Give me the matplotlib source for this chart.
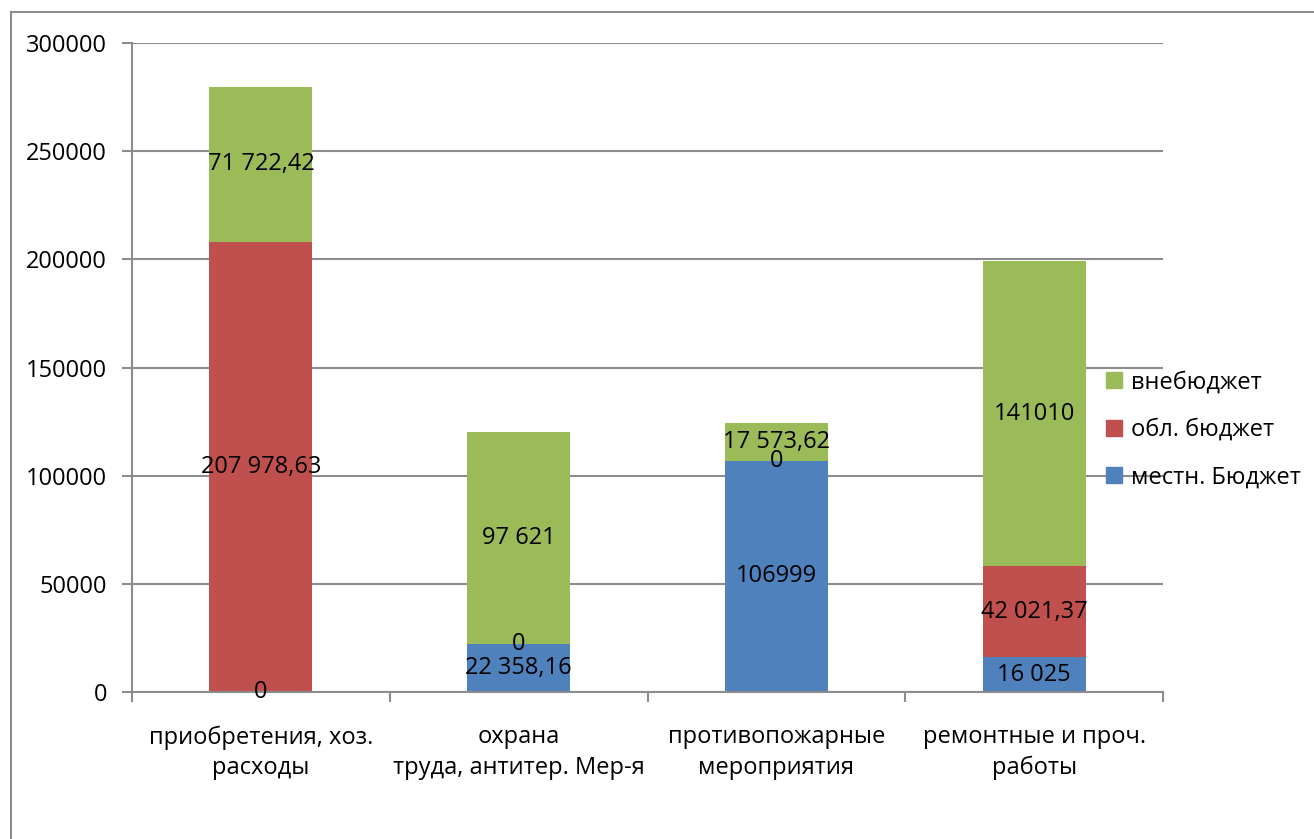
import matplotlib.pyplot as plt
from matplotlib.lines import Line2D
from matplotlib.patches import Patch
import numpy as np

# данные
categories = ["приобретения, хоз.\nрасходы", "охрана\nтруда, антитер. Мер-я",
              "противопожарные\nмероприятия", "ремонтные и проч.\nработы"]
series_names = ["местн. Бюджет", "обл. бюджет", "внебюджет"]
mestn = [0, 22358.16, 106999, 16025]
obl = [207978.63, 0, 0, 42021.37]
vneb = [71722.42, 97621, 17573.62, 141010]
labels_mestn = ["0", "22 358,16", "106999", "16 025"]
labels_obl = ["207 978,63", "0", "0", "42 021,37"]
labels_vneb = ["71 722,42", "97 621", "17 573,62", "141010"]
yticks = [0, 50000, 100000, 150000, 200000, 250000, 300000]

colors = ["#4F81BD", "#C0504D", "#9BBB59"]
grid_c = "#8C8C8C"
plt.rcParams['font.family'] = ['Open Sans', 'DejaVu Sans']
fs = 17

W, H = 1314, 839
fig = plt.figure(figsize=(W / 100, H / 100), dpi=100)
ax = fig.add_axes([132 / W, (H - 692) / H, (1163 - 132) / W, (692 - 43) / H])

x = np.arange(len(categories))
bottom = np.zeros(len(categories))
for vals, labs, col in zip([mestn, obl, vneb], [labels_mestn, labels_obl, labels_vneb], colors):
    vals = np.array(vals, dtype=float)
    ax.bar(x, vals, width=0.4, bottom=bottom, color=col, edgecolor="none", zorder=2)
    for xi, b, v, t in zip(x, bottom, vals, labs):
        ax.text(xi, b + v / 2, t, ha="center", va="center", fontsize=fs, zorder=3)
    bottom = bottom + vals

ax.set_xlim(-0.5, len(categories) - 0.5)
ax.set_ylim(0, 300000)
ax.set_yticks(yticks)
ax.set_yticklabels([str(v) for v in yticks], fontsize=fs)
ax.yaxis.grid(True, color=grid_c, linewidth=1.5, zorder=0)
ax.set_axisbelow(True)
ax.tick_params(axis="y", length=7, width=1.5, color=grid_c, pad=11)

ax.set_xticks(x)
ax.set_xticklabels(categories, fontsize=fs, linespacing=1.35)
ax.tick_params(axis="x", which="major", length=0, pad=24)
ax.set_xticks(np.arange(-0.5, len(categories)), minor=True)
ax.tick_params(axis="x", which="minor", length=7, width=1.5, color=grid_c, direction="out")

for s in ["top", "right"]:
    ax.spines[s].set_visible(False)
for s in ["left", "bottom"]:
    ax.spines[s].set_color(grid_c)
    ax.spines[s].set_linewidth(1.5)

# легенда
handles = [Patch(color=colors[2]), Patch(color=colors[1]), Patch(color=colors[0])]
fig.legend(handles, ["внебюджет", "обл. бюджет", "местн. Бюджет"],
           loc="center left", bbox_to_anchor=(1085 / W, 1 - 430 / H),
           frameon=False, fontsize=fs, handlelength=0.65, handleheight=0.65,
           handletextpad=0.4, labelspacing=1.0)

# рамка
fig.add_artist(Line2D([11 / W, 11 / W], [1 - 12 / H, 0], color="#8C8C8C", linewidth=1.5))
fig.add_artist(Line2D([11 / W, 1], [1 - 12 / H, 1 - 12 / H], color="#8C8C8C", linewidth=1.5))

fig.savefig("out.png", dpi=100)
